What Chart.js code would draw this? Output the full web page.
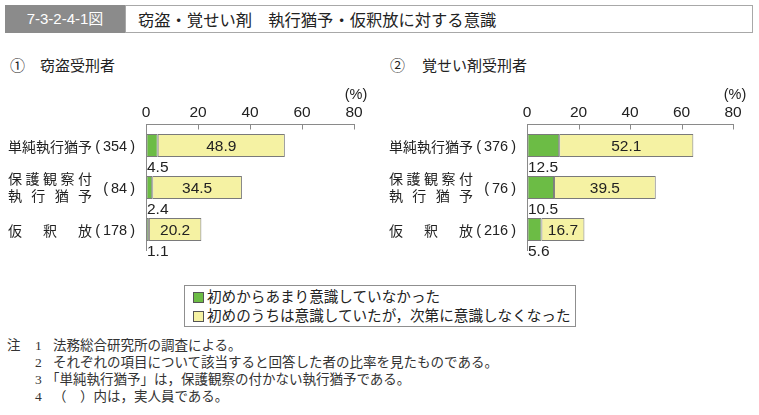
<!DOCTYPE html>
<html lang="ja">
<head>
<meta charset="utf-8">
<script src="https://cdn.jsdelivr.net/npm/chart.js@4"></script>
<style>
  html, body { margin: 0; padding: 0; background: #fff; }
  body { width: 759px; height: 415px; position: relative; overflow: hidden;
         font-family: 'Noto Sans CJK JP', sans-serif; color: #222; }
  .abs { position: absolute; white-space: nowrap; }
  #tag { left: 5px; top: 5px; width: 120px; height: 28px; background: #8b8b8b; color: #fff;
         font: 15px 'Liberation Sans', 'Noto Sans CJK JP', sans-serif; line-height: 28px; text-align: center; }
  #tbox { left: 125px; top: 5px; width: 628px; height: 28px; box-sizing: border-box; border: 1px solid #a8a8a8; }
  #ttext { left: 138px; top: 5px; height: 28px; line-height: 28px; font-size: 16.3px; color: #222; }
  .sub { font-size: 15px; line-height: 18px; top: 56px; }
  #legend { left: 184px; top: 285px; width: 392px; height: 42px; box-sizing: border-box; border: 1px solid #8f8f8f; }
  .lrow { position: absolute; left: 8px; height: 20px; line-height: 20px; font-size: 14.6px; }
  .sw { display: inline-block; width: 9px; height: 9px; border: 1px solid #555; vertical-align: middle;
        margin-right: 3px; position: relative; top: -1px; }
  .note { font: 13.5px 'Liberation Serif', 'Noto Sans CJK JP', serif; color: #333; line-height: 17px; }
  canvas { position: absolute; }
</style>
</head>
<body>
<div id="tag" class="abs">7-3-2-4-1図</div>
<div id="tbox" class="abs"></div>
<div id="ttext" class="abs">窃盗・覚せい剤　執行猶予・仮釈放に対する意識</div>

<div class="abs sub" style="left:10px">①</div>
<div class="abs sub" style="left:40px">窃盗受刑者</div>
<div class="abs sub" style="left:390px">②</div>
<div class="abs sub" style="left:422px">覚せい剤受刑者</div>

<canvas id="c1" width="380" height="200" style="left:0;top:80px;width:380px;height:200px"></canvas>
<canvas id="c2" width="379" height="200" style="left:380px;top:80px;width:379px;height:200px"></canvas>

<div id="legend" class="abs">
  <div class="lrow" style="top:0px"><span class="sw" id="sw1"></span>初めからあまり意識していなかった</div>
  <div class="lrow" style="top:19px"><span class="sw" id="sw2"></span>初めのうちは意識していたが，次第に意識しなくなった</div>
</div>

<div class="abs note" style="left:7px;top:337px">注</div>
<div class="abs note" style="left:35px;top:337px">1</div>
<div class="abs note" style="left:53px;top:337px">法務総合研究所の調査による。</div>
<div class="abs note" style="left:35px;top:354px">2</div>
<div class="abs note" style="left:53px;top:354px">それぞれの項目について該当すると回答した者の比率を見たものである。</div>
<div class="abs note" style="left:35px;top:371px">3</div>
<div class="abs note" style="left:46px;top:371px">「単純執行猶予」は，保護観察の付かない執行猶予である。</div>
<div class="abs note" style="left:35px;top:388px">4</div>
<div class="abs note" style="left:53px;top:388px">（　）内は，実人員である。</div>

<script>
// ---- data ----
const categoryLines = [['単純執行猶予'], ['保護観察付', '執行猶予'], ['仮釈放']];
const seriesNames = ['初めからあまり意識していなかった', '初めのうちは意識していたが，次第に意識しなくなった'];

const theftCounts  = [354, 84, 178];
const theftInitial = [4.5, 2.4, 1.1];
const theftLater   = [48.9, 34.5, 20.2];

const stimCounts   = [376, 76, 216];
const stimInitial  = [12.5, 10.5, 5.6];
const stimLater    = [52.1, 39.5, 16.7];

const axisMin = 0, axisMax = 80, axisStep = 20;
const unitLabel = '(%)';

// ---- styles ----
const GREEN = '#6cbc45';
const YELLOW = '#f5f2a3';
const EDGE = '#7a7a7a';
const AXIS = '#8a8a8a';
const TXT = '#222';
const LAT = "'Liberation Sans', 'Noto Sans CJK JP', sans-serif";
const JP = "'Noto Sans CJK JP', sans-serif";

document.getElementById('sw1').style.background = GREEN;
document.getElementById('sw2').style.background = YELLOW;

const decor = {
  id: 'decor',
  afterDraw(chart) {
    const ctx = chart.ctx;
    const xs = chart.scales.x, ys = chart.scales.y;
    const area = chart.chartArea;
    const counts = chart.options.plugins.decor.counts;
    ctx.save();
    // inward tick marks
    ctx.strokeStyle = AXIS; ctx.lineWidth = 1;
    for (let v = axisMin + axisStep; v <= axisMax; v += axisStep) {
      const px = Math.round(xs.getPixelForValue(v)) + 0.5;
      ctx.beginPath(); ctx.moveTo(px, area.top); ctx.lineTo(px, area.top + 5); ctx.stroke();
    }
    // unit
    ctx.fillStyle = TXT; ctx.font = '14.5px ' + LAT; ctx.textAlign = 'center'; ctx.textBaseline = 'middle';
    ctx.fillText(unitLabel, xs.getPixelForValue(axisMax) + 2, area.top - 30);

    const m0 = chart.getDatasetMeta(0), m1 = chart.getDatasetMeta(1);
    // values inside yellow bars
    ctx.font = '15.5px ' + LAT; ctx.textAlign = 'center';
    m1.data.forEach((el, i) => {
      ctx.fillText(chart.data.datasets[1].data[i].toFixed(1), (el.base + el.x) / 2, el.y + 1);
    });
    // green values below bars
    ctx.textAlign = 'left';
    m0.data.forEach((el, i) => {
      ctx.fillText(chart.data.datasets[0].data[i].toFixed(1), area.left + 1, el.y + el.height / 2 + 11);
    });
    // category labels
    const left = area.left - 138, span = 84;
    ctx.font = '14px ' + JP;
    categoryLines.forEach((lines, i) => {
      const cy = ys.getPixelForValue(i);
      lines.forEach((line, k) => {
        const y = lines.length === 1 ? cy + 1 : cy + (k === 0 ? -8.5 : 8.5);
        const chars = [...line];
        const widths = chars.map(c => ctx.measureText(c).width);
        const total = widths.reduce((a, b) => a + b, 0);
        const gap = chars.length > 1 ? (span - total) / (chars.length - 1) : 0;
        let x = left;
        chars.forEach((c, j) => { ctx.fillText(c, x, y); x += widths[j] + gap; });
      });
      // count in parentheses
      const R = area.left - 11;
      ctx.save();
      ctx.font = '14.5px ' + LAT; ctx.textAlign = 'right';
      const num = String(counts[i]);
      const wp = ctx.measureText(')').width, wn = ctx.measureText(num).width;
      ctx.fillText(')', R, cy + 1);
      ctx.fillText(num, R - wp - 3, cy + 1);
      ctx.fillText('(', R - wp - 3 - wn - 3, cy + 1);
      ctx.restore();
    });
    ctx.restore();
  }
};

function makeChart(id, initial, later, counts, yWidth) {
  return new Chart(document.getElementById(id), {
    type: 'bar',
    data: {
      labels: categoryLines.map(l => l.join('')),
      datasets: [
        { label: seriesNames[0], data: initial, backgroundColor: GREEN, borderColor: EDGE, borderWidth: 1, borderSkipped: false },
        { label: seriesNames[1], data: later, backgroundColor: YELLOW, borderColor: EDGE, borderWidth: 1, borderSkipped: false }
      ]
    },
    options: {
      indexAxis: 'y',
      responsive: false,
      animation: false,
      events: [],
      layout: { padding: { top: 0, right: 26, bottom: 29.5, left: 0 } },
      datasets: { bar: { barPercentage: 1, categoryPercentage: 0.55 } },
      scales: {
        x: {
          position: 'top', stacked: true, min: axisMin, max: axisMax,
          ticks: { stepSize: axisStep, padding: 2, color: TXT, font: { family: LAT, size: 15.5 } },
          grid: { drawOnChartArea: false, drawTicks: false },
          border: { display: true, color: AXIS, width: 1 },
          afterFit(s) { s.height = 44.5; }
        },
        y: {
          stacked: true,
          ticks: { display: false },
          grid: { display: false, drawTicks: false },
          border: { display: true, color: AXIS, width: 1 },
          afterFit(s) { s.width = yWidth; }
        }
      },
      plugins: { legend: { display: false }, tooltip: { enabled: false }, decor: { counts } }
    },
    plugins: [decor]
  });
}

makeChart('c1', theftInitial, theftLater, theftCounts, 146);
makeChart('c2', stimInitial, stimLater, stimCounts, 147);
</script>
</body>
</html>
